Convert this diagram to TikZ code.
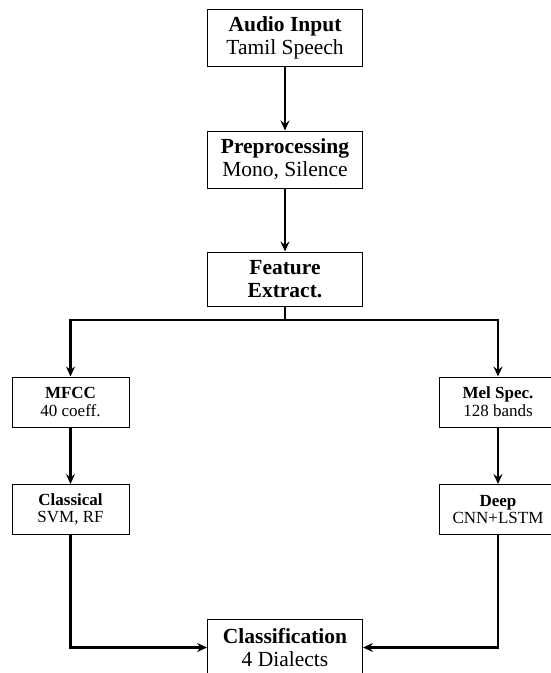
\documentclass[tikz,border=0pt]{standalone}
\usepackage{fontspec}
\setmainfont{Liberation Serif}
\usetikzlibrary{arrows.meta}
\tikzset{
  mainbox/.style={draw, line width=1pt, minimum width=155pt, minimum height=57pt, inner sep=0pt, align=center, font=\fontsize{21.5}{22.8}\selectfont},
  smallbox/.style={draw, line width=1pt, minimum width=117pt, minimum height=50pt, inner sep=0pt, align=center, font=\fontsize{17}{17.8}\selectfont},
  conn/.style={line width=2.2pt, -{Stealth[length=10pt,width=9pt,inset=3.5pt]}},
  plain/.style={line width=2.2pt}
}
\begin{document}
\begin{tikzpicture}[x=1pt,y=-1pt]
\useasboundingbox (0,0) rectangle (551,673);
\node[mainbox] (audio) at (285,37.5) {\textbf{Audio Input}\\Tamil Speech};
\node[mainbox] (pre) at (285,159.5) {\textbf{Preprocessing}\\Mono, Silence};
\node[mainbox, minimum height=54pt] (feat) at (285,279) {\textbf{Feature}\\\textbf{Extract.}};
\coordinate (split) at (285,320);
\node[smallbox] (mfcc) at (70.5,402) {\textbf{MFCC}\\40 coeff.};
\node[smallbox] (mel) at (498,402) {\textbf{Mel Spec.}\\128 bands};
\node[smallbox] (clas) at (70.5,509.5) {\textbf{Classical}\\SVM, RF};
\node[smallbox] (deep) at (498,509.5) {\textbf{Deep}\\CNN+LSTM};
\node[mainbox] (cls) at (285,647.5) {\textbf{Classification}\\4 Dialects};
\draw[conn] (audio) -- (pre);
\draw[conn] (pre) -- (feat);
\draw[plain] (feat.south) -- (split);
\draw[conn] (split) -| (mfcc.north);
\draw[conn] (split) -| (mel.north);
\draw[conn] (mfcc) -- (clas);
\draw[conn] (mel) -- (deep);
\draw[conn] (clas.south) |- (cls.west);
\draw[conn] (deep.south) |- (cls.east);
\end{tikzpicture}
\end{document}
